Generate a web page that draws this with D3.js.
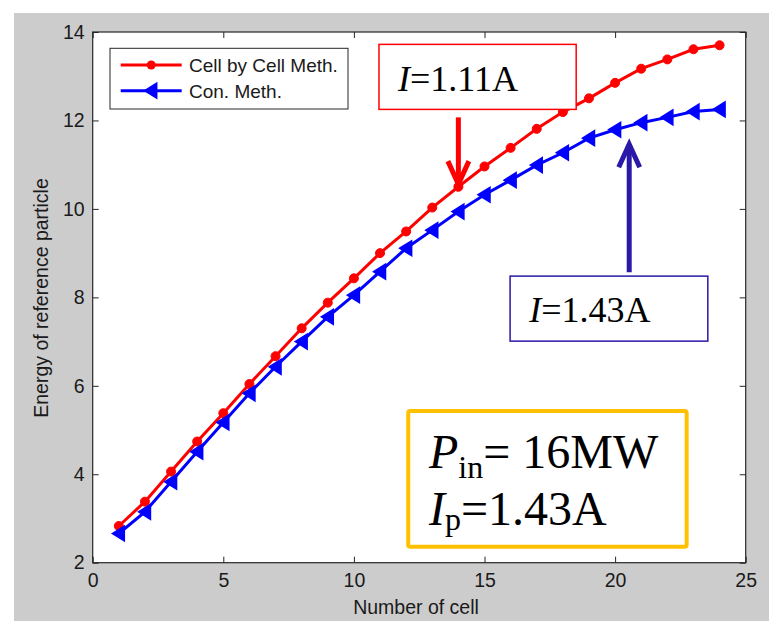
<!DOCTYPE html>
<html>
<head>
<meta charset="utf-8">
<script src="https://cdn.jsdelivr.net/npm/d3@7"></script>
<style>
  html, body { margin: 0; padding: 0; background: #ffffff; }
  svg { display: block; }
</style>
</head>
<body>
<svg id="chart" width="769" height="621"></svg>
<script>
// ---- data ----
const cells = [1,2,3,4,5,6,7,8,9,10,11,12,13,14,15,16,17,18,19,20,21,22,23,24];
const cellByCell = [2.83,3.38,4.06,4.74,5.38,6.04,6.67,7.30,7.88,8.43,9.00,9.49,10.03,10.50,10.96,11.38,11.81,12.19,12.50,12.85,13.17,13.38,13.61,13.70];
const conMeth = [2.66,3.15,3.83,4.51,5.17,5.83,6.43,7.00,7.56,8.05,8.58,9.11,9.52,9.94,10.32,10.65,10.99,11.27,11.60,11.79,11.95,12.07,12.20,12.25];
const xTicks = [0,5,10,15,20,25];
const yTicks = [2,4,6,8,10,12,14];
const seriesNames = ["Cell by Cell Meth.", "Con. Meth."];
const xLabel = "Number of cell";
const yLabel = "Energy of reference particle";

(function () {
const svg = d3.select("#chart");
const W = 769, H = 621;
const pL = 92.7, pR = 745.7, pT = 32, pB = 562.7;
const axisColor = "#262626";

// figure background
svg.append("rect").attr("x", 14).attr("y", 13).attr("width", W - 14).attr("height", H - 13).attr("fill", "#cccccc");

const x = d3.scaleLinear().domain([0, 25]).range([pL, pR]);
const y = d3.scaleLinear().domain([2, 14]).range([pB, pT]);

// plot area
svg.append("rect").attr("x", pL).attr("y", pT).attr("width", pR - pL).attr("height", pB - pT).attr("fill", "#ffffff");

// axes
const fontSans = "'Liberation Sans', Arial, sans-serif";
const gx = svg.append("g").attr("transform", `translate(0,${pB})`)
  .call(d3.axisBottom(x).tickValues(xTicks).tickSizeInner(-6).tickSizeOuter(0).tickPadding(10));
const gxt = svg.append("g").attr("transform", `translate(0,${pT})`)
  .call(d3.axisTop(x).tickValues(xTicks).tickSizeInner(-6).tickSizeOuter(0).tickFormat(""));
const gy = svg.append("g").attr("transform", `translate(${pL},0)`)
  .call(d3.axisLeft(y).tickValues(yTicks).tickSizeInner(-6).tickSizeOuter(0).tickPadding(8));
const gyr = svg.append("g").attr("transform", `translate(${pR},0)`)
  .call(d3.axisRight(y).tickValues(yTicks).tickSizeInner(-6).tickSizeOuter(0).tickFormat(""));
[gx, gxt, gy, gyr].forEach(g => {
  g.select(".domain").remove();
  g.selectAll(".tick line").attr("stroke", axisColor).attr("stroke-width", 1);
  g.selectAll(".tick text").attr("fill", "#1a1a1a").style("font-family", fontSans).style("font-size", "19.5px");
});
// box
svg.append("rect").attr("x", pL).attr("y", pT).attr("width", pR - pL).attr("height", pB - pT)
  .attr("fill", "none").attr("stroke", axisColor).attr("stroke-width", 1.2);

// axis labels
svg.append("text").attr("x", 416).attr("y", 614).attr("text-anchor", "middle")
  .style("font-family", fontSans).style("font-size", "19.5px").attr("fill", "#1a1a1a").text(xLabel);
svg.append("text").attr("transform", `translate(48,298) rotate(-90)`).attr("text-anchor", "middle")
  .style("font-family", fontSans).style("font-size", "19.5px").attr("fill", "#1a1a1a").text(yLabel);

// lines
const line = d3.line().x((d, i) => x(cells[i])).y(d => y(d));
svg.append("path").datum(cellByCell).attr("d", line).attr("fill", "none").attr("stroke", "#ff0000").attr("stroke-width", 3);
svg.append("path").datum(conMeth).attr("d", line).attr("fill", "none").attr("stroke", "#0000ff").attr("stroke-width", 3);

// markers
svg.append("g").selectAll("circle").data(cellByCell).join("circle")
  .attr("cx", (d, i) => x(cells[i])).attr("cy", d => y(d)).attr("r", 4.5)
  .attr("fill", "#ff0000").attr("stroke", "#ff0000").attr("stroke-width", 1);
const tri = "M-6.5,0 L5.5,-7.5 L5.5,7.5 Z";
svg.append("g").selectAll("path").data(conMeth).join("path")
  .attr("transform", (d, i) => `translate(${x(cells[i])},${y(d)})`).attr("d", tri)
  .attr("fill", "#0000ff").attr("stroke", "#0000ff").attr("stroke-width", 1.5).attr("stroke-linejoin", "miter");

// legend
const lg = svg.append("g");
lg.append("rect").attr("x", 110).attr("y", 48.3).attr("width", 238).attr("height", 60.7)
  .attr("fill", "#ffffff").attr("stroke", axisColor).attr("stroke-width", 1);
const legendColors = ["#ff0000", "#0000ff"];
seriesNames.forEach((name, i) => {
  const ly = 65 + i * 25.7;
  lg.append("line").attr("x1", 120.7).attr("x2", 181.7).attr("y1", ly).attr("y2", ly)
    .attr("stroke", legendColors[i]).attr("stroke-width", 3);
  if (i === 0) {
    lg.append("circle").attr("cx", 151.2).attr("cy", ly).attr("r", 4.5).attr("fill", "#ff0000");
  } else {
    lg.append("path").attr("transform", `translate(151.2,${ly})`).attr("d", tri)
      .attr("fill", "#0000ff").attr("stroke", "#0000ff").attr("stroke-width", 1.5);
  }
  lg.append("text").attr("x", 189).attr("y", ly + 7)
    .style("font-family", fontSans).style("font-size", "19px").attr("fill", "#1a1a1a").text(name);
});

// annotations
const fontSerif = "'Liberation Serif', 'Times New Roman', serif";
function arrow(xd, y0, y1, color, dir) {
  const px = x(xd), p0 = y(y0), p1 = y(y1);
  const g = svg.append("g");
  g.append("line").attr("x1", px).attr("x2", px).attr("y1", p0).attr("y2", p1)
    .attr("stroke", color).attr("stroke-width", 5);
  const hw = 10.5, hl = 23 * dir;
  g.append("path").attr("d", `M${px - hw},${p1 - hl} L${px},${p1} L${px + hw},${p1 - hl}`)
    .attr("fill", "none").attr("stroke", color).attr("stroke-width", 5).attr("stroke-linejoin", "miter");
}
function labelBox(x0, x1, y0, y1, color, sw, rx) {
  svg.append("rect").attr("x", x(x0)).attr("y", y(y0)).attr("width", x(x1) - x(x0)).attr("height", y(y1) - y(y0))
    .attr("fill", "#ffffff").attr("stroke", color).attr("stroke-width", sw).attr("rx", rx);
}

// red annotation
arrow(14, 12.07, 10.56, "#ff0000", 1);
labelBox(10.96, 18.51, 13.72, 12.25, "#ff0000", 1.5, 0);
const t1 = svg.append("text").attr("x", 398).attr("y", 90.5)
  .style("font-family", fontSerif).style("font-size", "36px").attr("fill", "#000");
t1.append("tspan").style("font-style", "italic").text("I");
t1.append("tspan").text("=1.11A");

// blue annotation
const navy = "#2a18a8";
arrow(20.54, 8.57, 11.46, navy, -1);
labelBox(15.98, 23.55, 8.48, 7.01, navy, 1.5, 0);
const t2 = svg.append("text").attr("x", 529.3).attr("y", 322.3)
  .style("font-family", fontSerif).style("font-size", "36px").attr("fill", "#000");
t2.append("tspan").style("font-style", "italic").text("I");
t2.append("tspan").text("=1.43A");

// yellow box
labelBox(12.08, 22.74, 5.43, 2.36, "#ffc000", 4, 2);
const t3 = svg.append("text").attr("x", 429).attr("y", 467.7)
  .style("font-family", fontSerif).style("font-size", "48px").attr("fill", "#000");
t3.append("tspan").style("font-style", "italic").text("P");
t3.append("tspan").attr("dy", 10).style("font-size", "32px").text("in");
t3.append("tspan").attr("dy", -10).text("= 16MW");
const t4 = svg.append("text").attr("x", 429).attr("y", 525)
  .style("font-family", fontSerif).style("font-size", "48px").attr("fill", "#000");
t4.append("tspan").style("font-style", "italic").text("I");
t4.append("tspan").attr("dy", 5).style("font-size", "32px").text("p");
t4.append("tspan").attr("dy", -5).text("=1.43A");
})();
</script>
</body>
</html>
